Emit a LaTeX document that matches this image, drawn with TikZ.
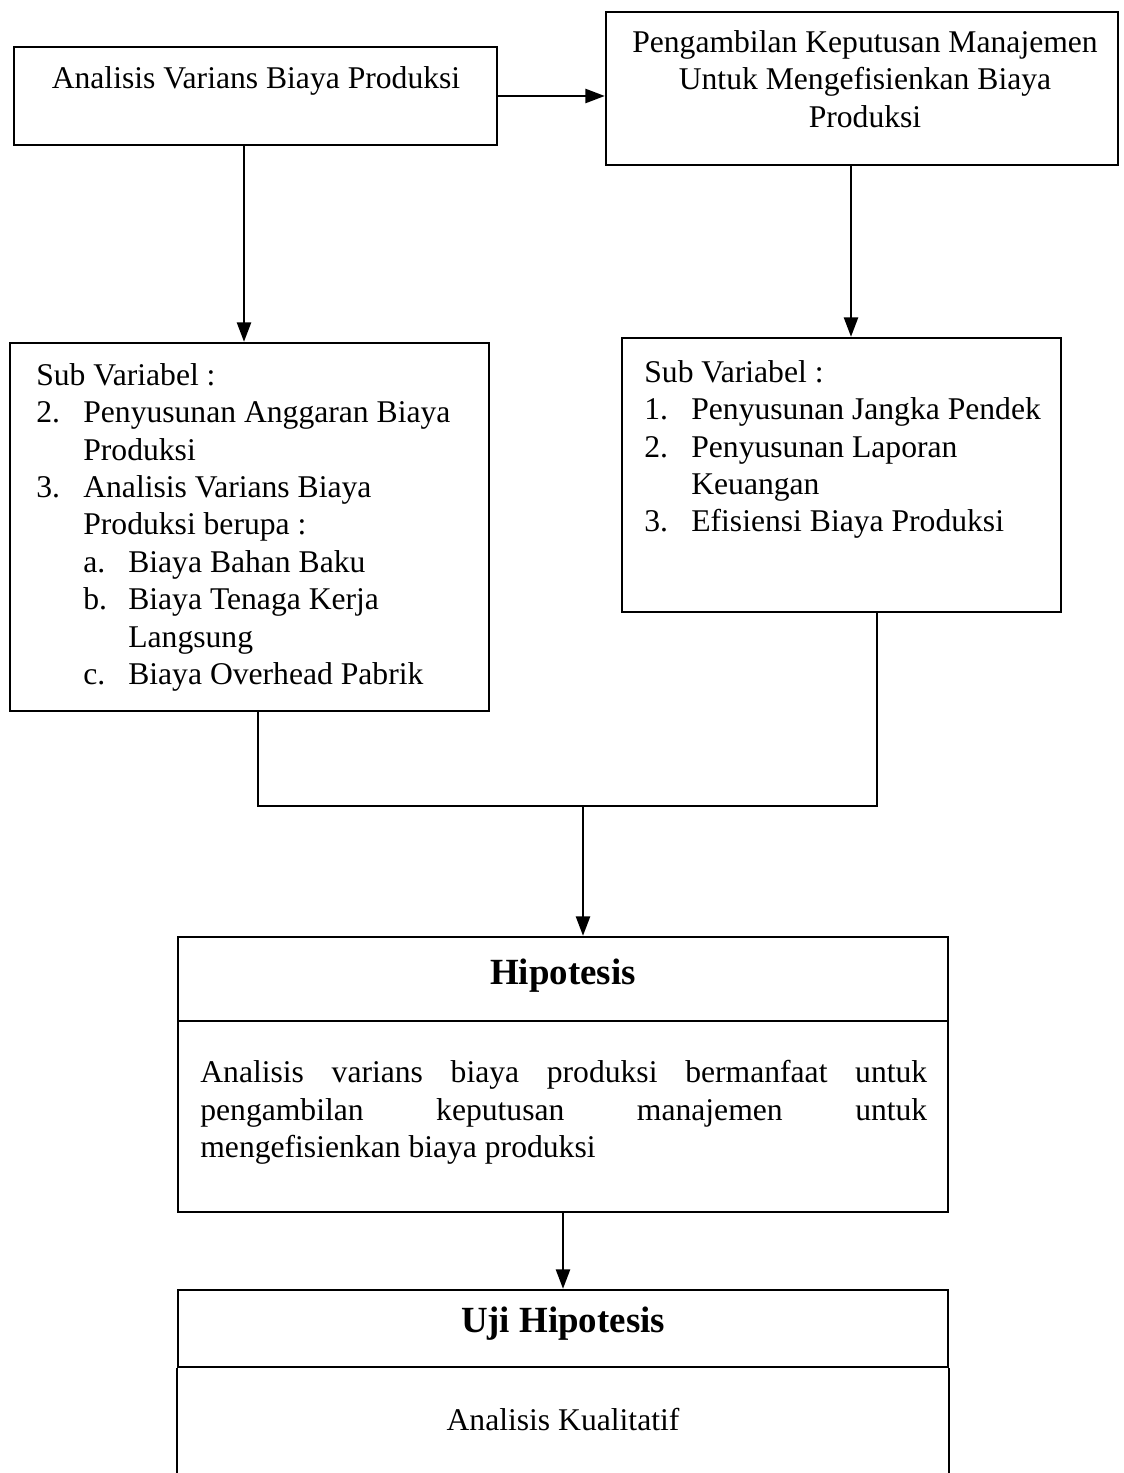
\documentclass[tikz,border=0pt]{standalone}
\usepackage{fontspec}
\setmainfont{Liberation Serif}
\usetikzlibrary{arrows.meta,fit}
\newcommand{\lbl}[2][0.94cm]{\makebox[#1][l]{#2}}
\newcommand{\skipind}{\hspace*{0.94cm}}

\begin{document}
\begin{tikzpicture}[x=0.02cm, y=-0.02cm,
    every node/.style={font=\fontsize{18}{21.3}\selectfont},
    box/.style={draw, line width=1.4pt, inner sep=0pt},
    txt/.style={inner sep=0pt},
    title/.style={txt, font=\fontsize{21}{25}\selectfont\bfseries},
    arr/.style={line width=1.2pt, -{Triangle[length=11pt,width=8pt]}},
    conn/.style={line width=1.2pt}]
    \useasboundingbox (0,0) rectangle (1124,1473);
    \node[box, fit={(14,47) (497,145)}] (a) {};
    \node[box, fit={(606,12) (1118,165)}] (b) {};
    \node[box, fit={(10,343) (489,711)}] (c) {};
    \node[box, fit={(622,338) (1061,612)}] (d) {};
    \node[box, fit={(178,937) (948,1021)}] (eh) {};
    \node[box, fit={(178,1021) (948,1212)}] (eb) {};
    \node[box, fit={(178,1290) (948,1367)}] (fh) {};
    \draw[line width=1.4pt] (fh.south west) -- ++(0,106);
    \draw[line width=1.4pt] (fh.south east) -- ++(0,106);
    \node[txt, anchor=north] (ta) at (256,66) {Analisis Varians Biaya Produksi};
    \node[txt, anchor=north, align=center] (tb) at (865,30) {Pengambilan Keputusan Manajemen\\Untuk Mengefisienkan Biaya\\Produksi};
    \node[txt, anchor=north west, align=left] (tc) at (36,363) {Sub Variabel :\\
        \lbl{2.}Penyusunan Anggaran Biaya\\
        \skipind Produksi\\
        \lbl{3.}Analisis Varians Biaya\\
        \skipind Produksi berupa :\\
        \skipind\lbl[0.9cm]{a.}Biaya Bahan Baku\\
        \skipind\lbl[0.9cm]{b.}Biaya Tenaga Kerja\\
        \skipind\hspace*{0.9cm}Langsung\\
        \skipind\lbl[0.9cm]{c.}Biaya Overhead Pabrik};
    \node[txt, anchor=north west, align=left] (td) at (644,360) {Sub Variabel :\\
        \lbl{1.}Penyusunan Jangka Pendek\\
        \lbl{2.}Penyusunan Laporan\\
        \skipind Keuangan\\
        \lbl{3.}Efisiensi Biaya Produksi};
    \node[title] (te0) at (563,976) {Hipotesis};
    \node[txt, anchor=north west, text width=14.54cm, align=justify] (te) at (200,1060) {Analisis varians biaya produksi bermanfaat untuk\linebreak pengambilan keputusan manajemen untuk\linebreak mengefisienkan biaya produksi};
    \node[title] (tf0) at (563,1324) {Uji Hipotesis};
    \node[txt] (tf) at (563,1420) {Analisis Kualitatif};
    \coordinate (jl) at (258,806);
    \coordinate (jr) at (877,806);
    \coordinate (jm) at (583,806);
    \draw[arr] (a.east) -- (a.east -| b.west);
    \draw[arr] ([xshift=-0.23cm]a.south) -- ([xshift=-0.23cm]a.south |- c.north);
    \draw[arr] ([xshift=-0.22cm]b.south) -- ([xshift=-0.22cm]b.south |- d.north);
    \draw[conn] (c.south -| jl) -- (jl) -- (jr) -- (d.south -| jr);
    \draw[arr] (jm) -- (jm |- eh.north);
    \draw[arr] (eb.south) -- (fh.north);
\end{tikzpicture}
\end{document}
